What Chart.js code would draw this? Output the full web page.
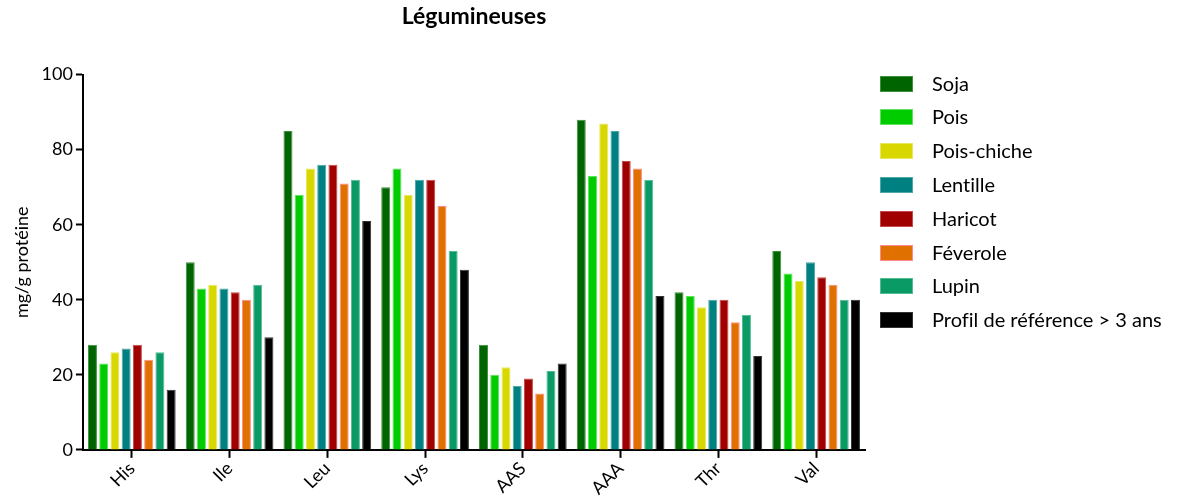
<!DOCTYPE html>
<html lang="fr">
<head>
<meta charset="utf-8">
<title>Légumineuses</title>
<script src="https://cdn.jsdelivr.net/npm/chart.js@4"></script>
<style>
  html, body { margin: 0; padding: 0; background: #fff; }
  canvas { display: block; }
</style>
</head>
<body>
<canvas id="chart" width="1180" height="499"></canvas>
<script>
// Acides aminés (catégories)
const categories = ['His', 'Ile', 'Leu', 'Lys', 'AAS', 'AAA', 'Thr', 'Val'];

// Valeurs en mg/g protéine
const soja      = [28, 50, 85, 70, 28, 88, 42, 53];
const pois      = [23, 43, 68, 75, 20, 73, 41, 47];
const poisChiche = [26, 44, 75, 68, 22, 87, 38, 45];
const lentille  = [27, 43, 76, 72, 17, 85, 40, 50];
const haricot   = [28, 42, 76, 72, 19, 77, 40, 46];
const feverole  = [24, 40, 71, 65, 15, 75, 34, 44];
const lupin     = [26, 44, 72, 53, 21, 72, 36, 40];
const profil    = [16, 30, 61, 48, 23, 41, 25, 40];

const yTicks = [0, 20, 40, 60, 80, 100];

const FONT = 'Lato, "Open Sans", "DejaVu Sans", sans-serif';

function series(label, data, color, border) {
  return {
    label: label,
    data: data,
    backgroundColor: color,
    borderColor: border,
    borderWidth: 1,
    barPercentage: 0.8,
    categoryPercentage: 0.92
  };
}

// Légende à droite, dessinée à la main (case + texte décalé comme l'original)
const sideLegend = {
  id: 'sideLegend',
  afterDraw(chart) {
    const c = chart.ctx;
    const left = chart.chartArea.right + 15;
    const top = chart.chartArea.top + 9;
    const step = 33.8;
    c.save();
    c.font = '20px ' + FONT;
    c.textRendering = 'optimizeSpeed'; // pas de ligature "ti"
    c.textBaseline = 'middle';
    c.textAlign = 'left';
    chart.data.datasets.forEach((ds, i) => {
      const y = Math.round(top + i * step);
      c.fillStyle = ds.backgroundColor;
      c.fillRect(left, y - 8, 33, 16);
      c.strokeStyle = ds.borderColor;
      c.lineWidth = 1;
      c.strokeRect(left + 0.5, y - 7.5, 32, 15);
      c.fillStyle = '#000';
      c.fillText(ds.label, left + 52, y + 1);
    });
    c.restore();
  }
};

const ctx = document.getElementById('chart');

new Chart(ctx, {
  type: 'bar',
  data: {
    labels: categories,
    datasets: [
      series('Soja', soja, '#006400', '#3f8f3f'),
      series('Pois', pois, '#00cc00', '#5fe35f'),
      series('Pois-chiche', poisChiche, '#d8d800', '#e8e860'),
      series('Lentille', lentille, '#008080', '#4fa8a8'),
      series('Haricot', haricot, '#a00000', '#c44a4a'),
      series('Féverole', feverole, '#e07000', '#ff8a8a'),
      series('Lupin', lupin, '#0a9a66', '#55bb95'),
      series('Profil de référence > 3 ans', profil, '#000000', '#333333')
    ]
  },
  plugins: [sideLegend],
  options: {
    responsive: false,
    animation: false,
    layout: {
      padding: { left: 11, right: 315, top: 0, bottom: 0 }
    },
    plugins: {
      title: {
        display: true,
        text: 'Légumineuses',
        fullSize: false,
        color: '#000',
        font: { family: FONT, size: 23, weight: 'bold' },
        padding: { top: 3, bottom: 44 }
      },
      legend: { display: false },
      tooltip: { enabled: false }
    },
    scales: {
      x: {
        offset: true,
        border: { display: true, color: '#000', width: 2 },
        grid: {
          display: true,
          offset: false,
          drawOnChartArea: false,
          drawTicks: true,
          tickLength: 8,
          tickWidth: 2,
          color: '#000'
        },
        ticks: {
          color: '#000',
          font: { family: FONT, size: 18 },
          minRotation: 45,
          maxRotation: 45,
          padding: 0
        }
      },
      y: {
        min: 0,
        max: 100,
        border: { display: true, color: '#000', width: 2 },
        grid: {
          display: true,
          drawOnChartArea: false,
          drawTicks: true,
          tickLength: 7,
          tickWidth: 2,
          color: '#000'
        },
        afterBuildTicks: axis => {
          axis.ticks = yTicks.map(v => ({ value: v }));
        },
        ticks: {
          color: '#000',
          font: { family: FONT, size: 18 },
          padding: 3
        },
        title: {
          display: true,
          text: 'mg/g protéine',
          color: '#000',
          font: { family: FONT, size: 18 },
          padding: { top: 0, bottom: 6 }
        }
      }
    }
  }
});
</script>
</body>
</html>
